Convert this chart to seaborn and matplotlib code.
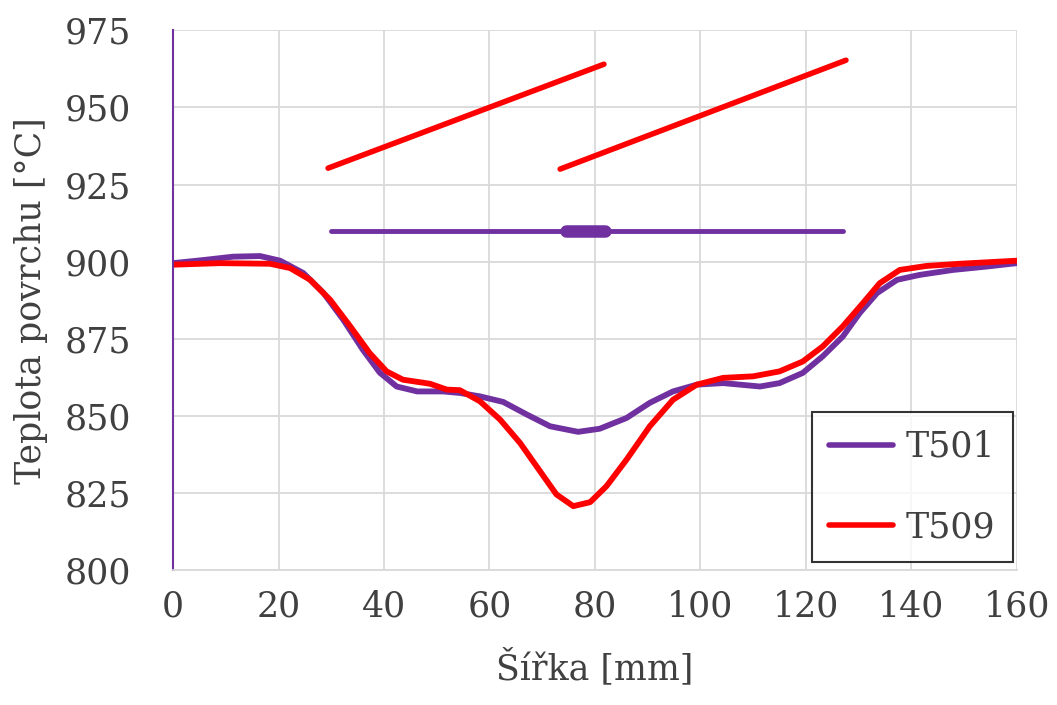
import numpy as np
import pandas as pd
import matplotlib
matplotlib.use("Agg")
import matplotlib.pyplot as plt
import seaborn as sns
from matplotlib.lines import Line2D

# Data
x_t501 = [0, 5.7, 11.4, 16.5, 20.3, 24.7, 28.5, 32.3, 36.0, 39.2, 42.4, 46.3, 51.2, 54.4, 58.2,
          62.6, 67.1, 71.5, 76.8, 80.9, 86.0, 90.4, 94.8, 99.3, 104.3, 107.5, 111.3, 115.0, 119.4,
          123.2, 127.0, 130.2, 133.5, 137.3, 141.6, 147.9, 154.3, 160.0]
t501 = [899.5, 900.5, 901.6, 901.8, 900.3, 896.3, 889.9, 881.1, 871.4, 864.0, 859.5, 857.9, 857.9,
        857.4, 856.3, 854.5, 850.4, 846.6, 844.8, 845.8, 849.3, 854.2, 857.9, 860.1, 860.6, 860.1,
        859.5, 860.6, 863.9, 869.3, 875.7, 883.3, 889.8, 894.1, 895.7, 897.3, 898.4, 899.5]
x_t509 = [0, 8.9, 18.4, 22.2, 26.0, 29.8, 33.6, 37.3, 40.5, 43.6, 48.7, 51.9, 54.4, 58.2, 62.0,
          65.8, 69.6, 72.7, 75.9, 79.1, 82.2, 86.0, 90.4, 94.8, 99.3, 104.3, 110.0, 115.0, 119.4,
          123.2, 127.0, 130.8, 134.0, 137.8, 142.9, 149.2, 160.0]
t509 = [899.0, 899.5, 899.3, 897.9, 894.1, 887.6, 879.0, 870.3, 864.4, 861.7, 860.4, 858.5, 858.3,
        854.7, 848.8, 841.2, 832.0, 824.5, 820.7, 822.0, 827.2, 835.8, 846.6, 855.2, 860.1, 862.3,
        862.8, 864.4, 867.6, 872.5, 879.0, 886.5, 893.0, 897.3, 898.6, 899.3, 900.3]
series_names = ["T501", "T509"]
series_colors = ["#7030A0", "#FF0000"]

# annotation segments (x in mm, y in °C)
red_seg1_x = [29.4, 81.7]
red_seg1_y = [930.3, 964.0]
red_seg2_x = [73.4, 127.6]
red_seg2_y = [930.0, 965.3]
purple_bar_x = [30.0, 127.0]
purple_bar_y = [910.0, 910.0]
purple_thick_x = [74.5, 82.0]
purple_thick_y = [910.0, 910.0]

xticks = [0, 20, 40, 60, 80, 100, 120, 140, 160]
yticks = [800, 825, 850, 875, 900, 925, 950, 975]

df = pd.concat([
    pd.DataFrame({"x": x_t501, "T": t501, "série": "T501"}),
    pd.DataFrame({"x": x_t509, "T": t509, "série": "T509"}),
])

sns.set_theme(style="white")
plt.rcParams["font.family"] = ["DejaVu Serif", "DejaVu Sans"]
text_color = "#404040"
fs = 25

fig = plt.figure(figsize=(10.57, 7.05), dpi=100)
ax = fig.add_axes([0.1637, 0.1915, 0.962 - 0.1637, 0.957 - 0.1915])

sns.lineplot(data=df, x="x", y="T", hue="série", palette=dict(zip(series_names, series_colors)),
             linewidth=4.2, ax=ax, legend=False, sort=True, solid_capstyle="round",
             solid_joinstyle="round")

ax.plot(red_seg1_x, red_seg1_y, color="#FF0000", lw=4, solid_capstyle="round")
ax.plot(red_seg2_x, red_seg2_y, color="#FF0000", lw=4, solid_capstyle="round")
ax.plot(purple_bar_x, purple_bar_y, color="#7030A0", lw=3.5, solid_capstyle="round")
ax.plot(purple_thick_x, purple_thick_y, color="#7030A0", lw=9, solid_capstyle="round")

ax.set_xlim(0, 160)
ax.set_ylim(800, 975)
ax.set_xticks(xticks)
ax.set_yticks(yticks)
ax.grid(True, color="#D9D9D9", lw=1.3)
for s in ["top", "right"]:
    ax.spines[s].set_visible(False)
ax.spines["bottom"].set_color("#D9D9D9")
ax.spines["bottom"].set_linewidth(1.3)
ax.spines["left"].set_color("#7030A0")
ax.spines["left"].set_linewidth(1.5)
ax.tick_params(axis="both", length=0, labelsize=fs, labelcolor=text_color)
ax.tick_params(axis="x", pad=14)
ax.tick_params(axis="y", pad=30)
ax.set_xlabel("Šířka [mm]", fontsize=fs, color=text_color, labelpad=18)
ax.set_ylabel("Teplota povrchu [°C]", fontsize=fs, color=text_color, labelpad=12)

handles = [Line2D([0], [0], color=c, lw=4, solid_capstyle="round") for c in series_colors]
leg = ax.legend(handles, series_names, loc="lower right", bbox_to_anchor=(0.995, 0.015),
                fontsize=fs, frameon=True, fancybox=False, edgecolor="black",
                handlelength=1.85, labelspacing=1.35, borderpad=0.5, handletextpad=0.35,
                borderaxespad=0)
leg.get_frame().set_linewidth(1.5)
for t in leg.get_texts():
    t.set_color(text_color)

fig.savefig("out.png", dpi=100, facecolor="white")
